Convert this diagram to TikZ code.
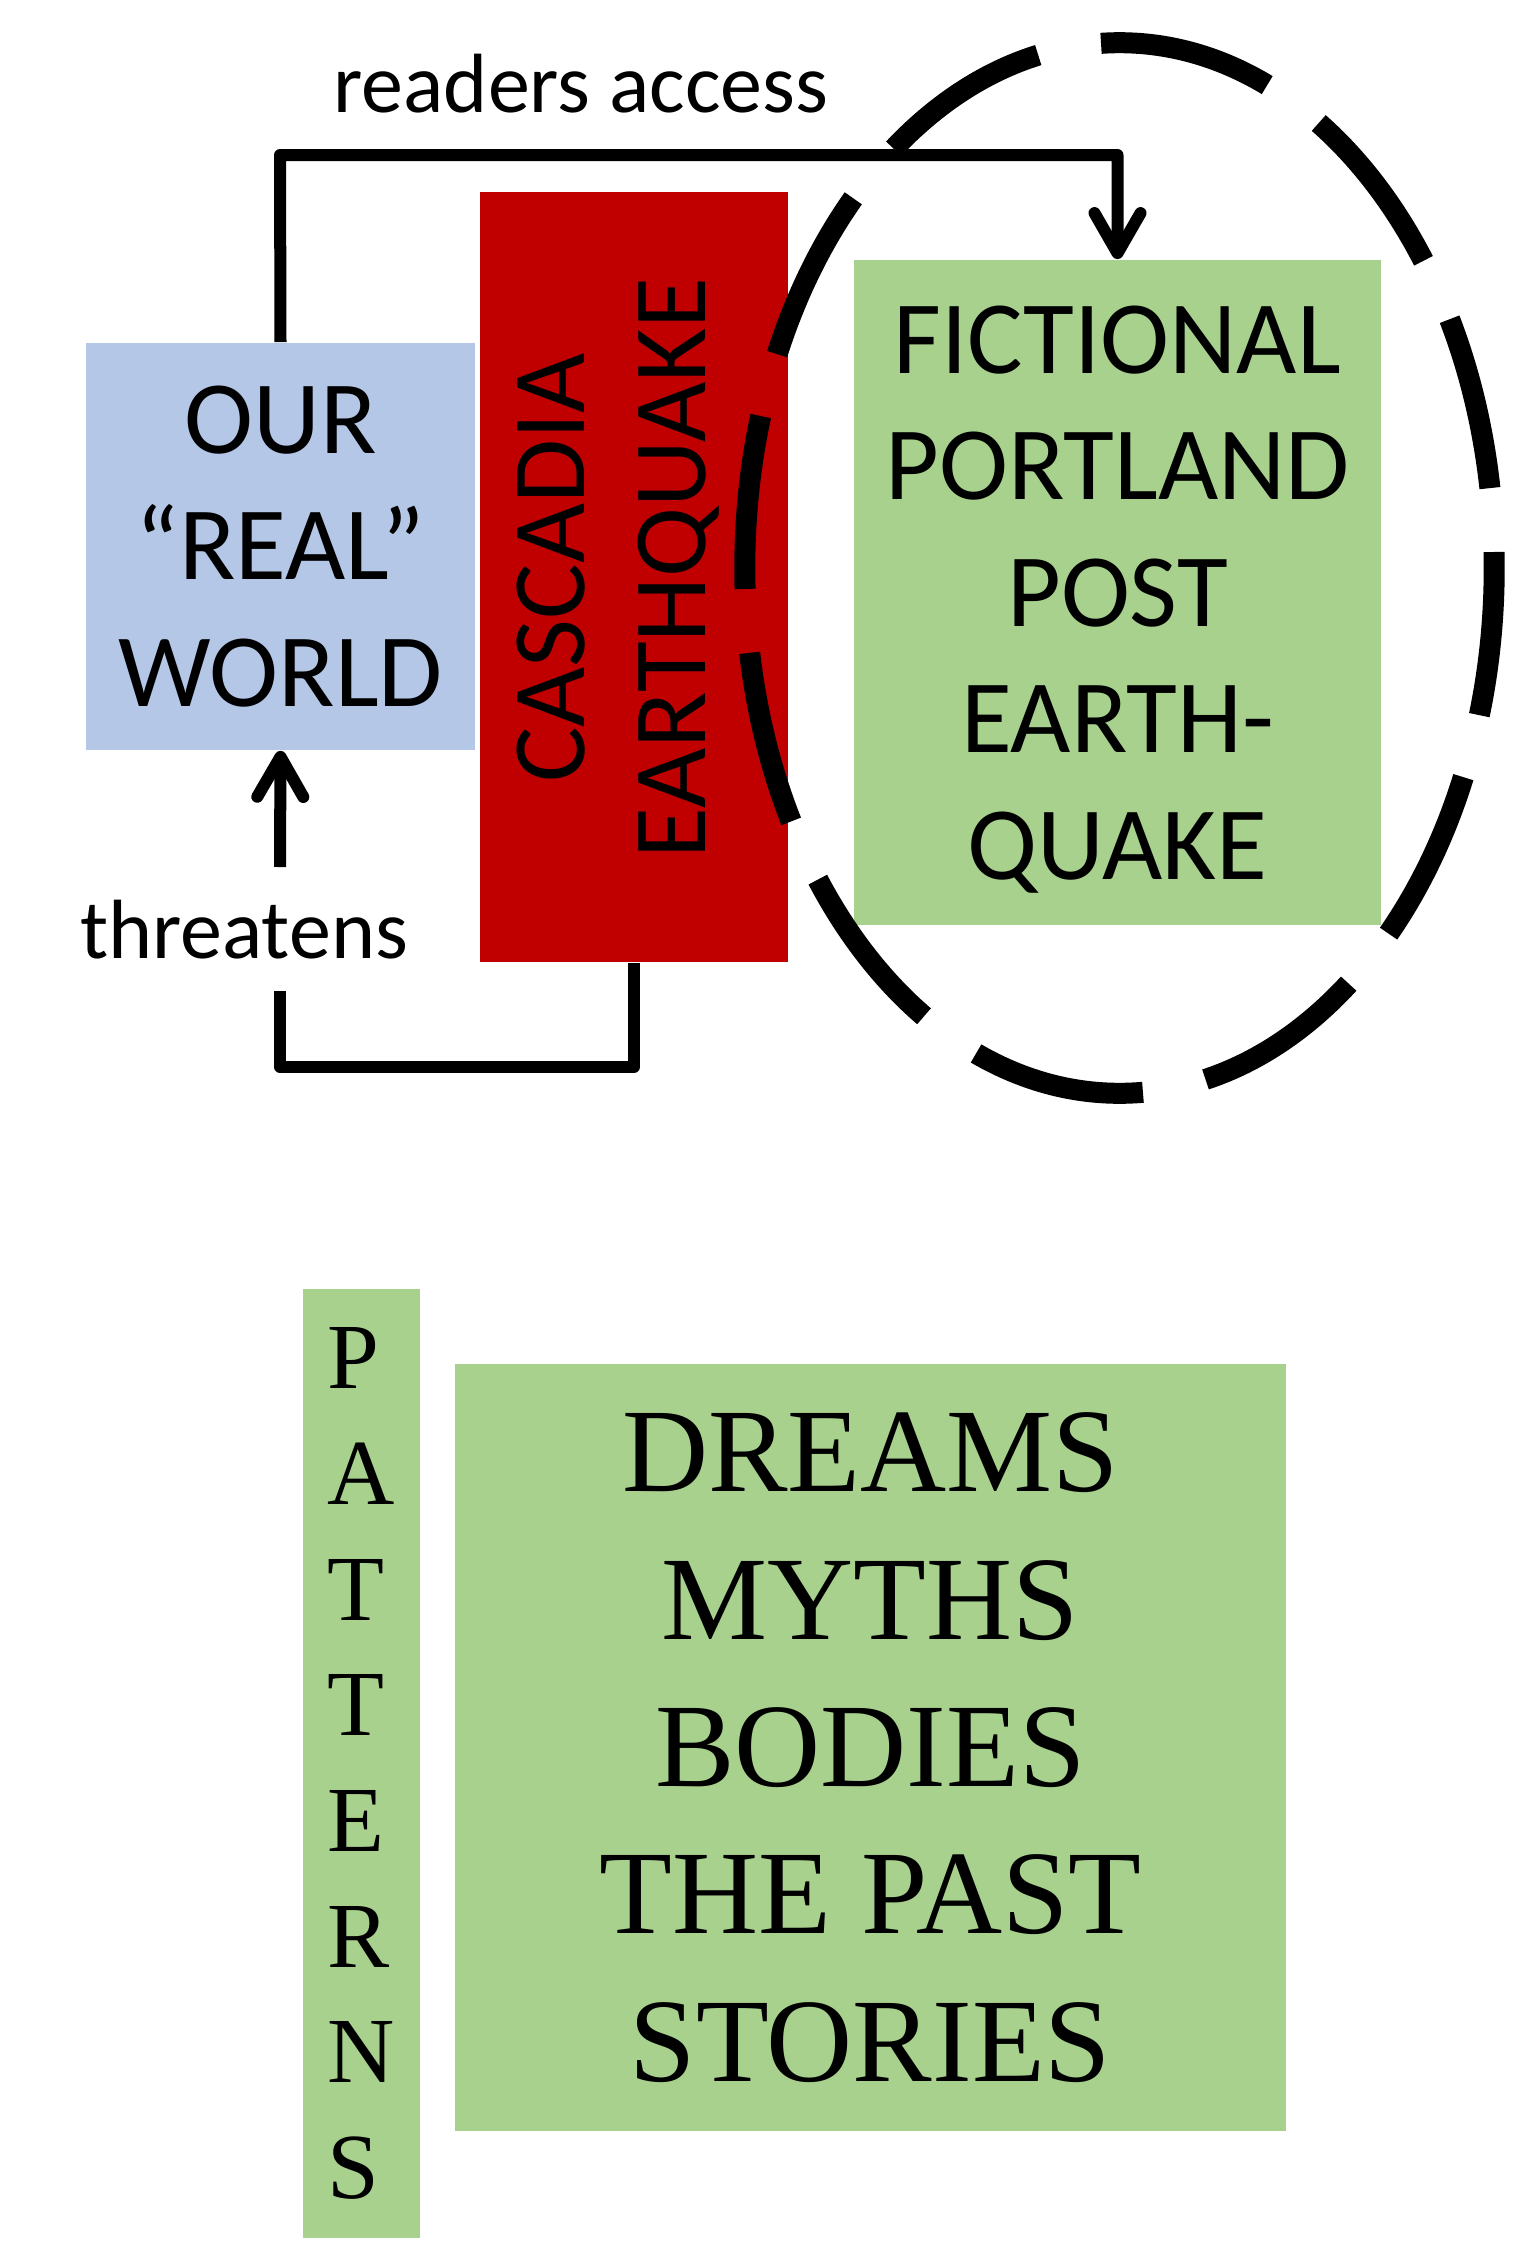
\documentclass[tikz,border=0pt]{standalone}
\usepackage{fontspec}
\usetikzlibrary{arrows.meta}
\newfontfamily\calibrifont{Carlito}
\newfontfamily\garamondfont{Liberation Serif}
\definecolor{worldblue}{HTML}{B4C7E7}
\definecolor{quakered}{HTML}{C00000}
\definecolor{fictiongreen}{HTML}{A9D18E}

\begin{document}
\begin{tikzpicture}[
  x=0.01cm,
  y=-0.01cm,
  every node/.style={inner sep=0pt, black},
  panel/.style={rectangle, inner sep=0pt, align=center},
  bigtext/.style={font=\calibrifont\fontsize{29.6}{36}\selectfont},
  smalltext/.style={font=\calibrifont\fontsize{23.9}{28}\selectfont},
  serifbig/.style={font=\garamondfont\fontsize{33.9}{41.9}\selectfont},
  link/.style={line width=0.12cm, line join=round},
  pointer/.style={link, -{Straight Barb[length=4mm, width=4.6mm, round]}},
  ring/.style={line width=0.21cm, dash pattern=on 1.74cm off 0.64cm,
               dash phase=1.58cm}
]
  \useasboundingbox (0,0) rectangle (1537,2248);

  % ---- the three panels of the top half -------------------------------
  \node[panel, fill=worldblue, minimum width=3.89cm, minimum height=4.07cm,
        bigtext] (real) at (280.5,546.5) {OUR\\“REAL”\\WORLD};
  \node[panel, fill=quakered, minimum width=3.08cm, minimum height=7.7cm]
    (quake) at (634,577) {};
  \node[font=\calibrifont\fontsize{29.6}{34.4}\selectfont, rotate=90,
        align=center] (quaketext)
    at ([xshift=-0.16cm, yshift=0.09cm]quake.center) {CASCADIA\\EARTHQUAKE};
  \node[panel, fill=fictiongreen, minimum width=5.27cm, minimum height=6.65cm,
        text depth=0pt, bigtext] (fiction) at (1117.5,592.5)
    {FICTIONAL\\PORTLAND\\POST\\EARTH-\\QUAKE};

  % ---- dashed ring round the fiction ----------------------------------
  \draw[ring] (1119.5,568) ellipse [x radius=3.745cm, y radius=5.25cm];

  % ---- readers access: over the top -----------------------------------
  \coordinate (accessbend) at (280,155);
  \draw[pointer] (real.north) -- (accessbend) -| (fiction.north);
  \node[smalltext, anchor=base] (access) at (581,112) {readers access};

  % ---- threatens: round the bottom ------------------------------------
  \coordinate (threatcorner) at (280,1067);
  \coordinate (threatfoot) at (280,991);
  \coordinate (threathead) at (280,867);
  \draw[link] (quake.south) |- (threatcorner) -- (threatfoot);
  \draw[pointer] (threathead) -- (real.south);
  \node[smalltext, anchor=base] (threat) at (244,958) {threatens};

  % ---- patterns --------------------------------------------------------
  \node[panel, fill=fictiongreen, minimum width=1.17cm, minimum height=9.49cm,
        font=\garamondfont\fontsize{26.5}{32.9}\selectfont, align=left]
    (patterns) at (361.5,1763.5) {P\\A\\T\\T\\E\\R\\N\\S};
  \node[panel, fill=fictiongreen, minimum width=8.31cm, minimum height=7.67cm,
        serifbig] (themes) at (870.5,1747.5)
    {DREAMS\\MYTHS\\BODIES\\THE PAST\\STORIES};
\end{tikzpicture}
\end{document}
